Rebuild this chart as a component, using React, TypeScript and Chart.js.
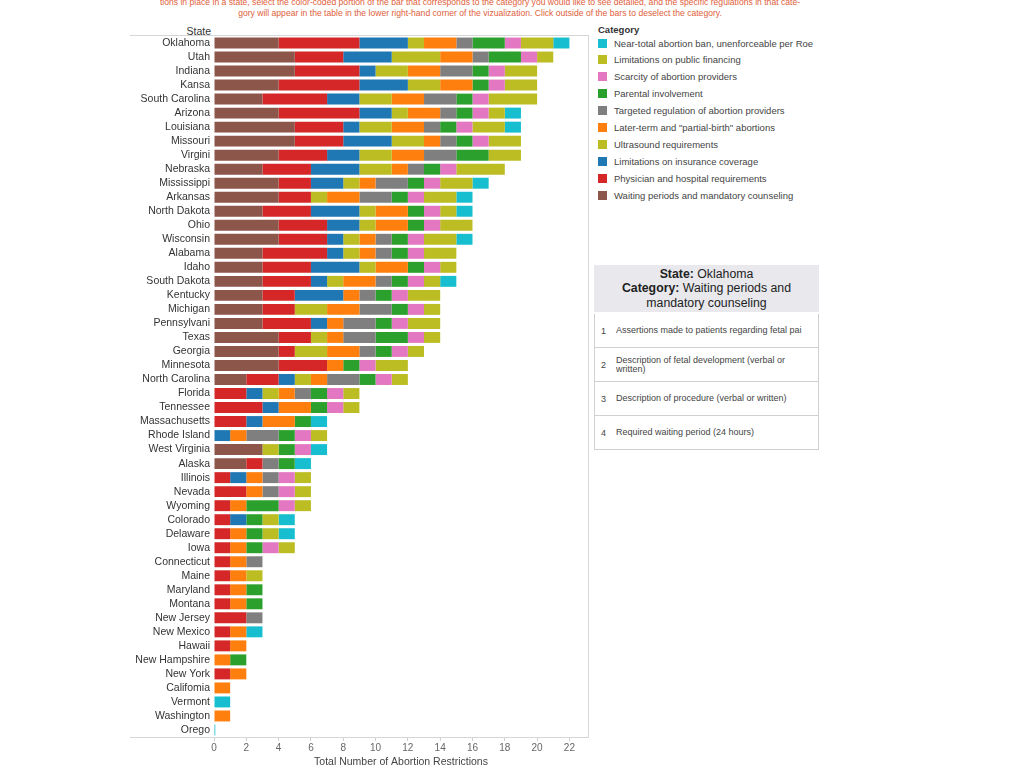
import React, { useEffect, useRef } from "react";
import { Chart, registerables } from "chart.js";

Chart.register(...registerables);

const states = [
  "Oklahoma", "Utah", "Indiana", "Kansa", "South Carolina", "Arizona", "Louisiana", "Missouri", "Virgini", "Nebraska",
  "Mississippi", "Arkansas", "North Dakota", "Ohio", "Wisconsin", "Alabama", "Idaho", "South Dakota", "Kentucky", "Michigan",
  "Pennsylvani", "Texas", "Georgia", "Minnesota", "North Carolina", "Florida", "Tennessee", "Massachusetts", "Rhode Island", "West Virginia",
  "Alaska", "Illinois", "Nevada", "Wyoming", "Colorado", "Delaware", "Iowa", "Connecticut", "Maine", "Maryland",
  "Montana", "New Jersey", "New Mexico", "Hawaii", "New Hampshire", "New York", "Califomia", "Vermont", "Washington", "Orego",
];

const waitingPeriods = [4,5,5,4,3,4,5,5,4,3, 4,4,3,4,4,3,3,3,3,3, 3,4,4,4,2,0,0,0,0,3, 2,0,0,0,0,0,0,0,0,0, 0,0,0,0,0,0,0,0,0,0];
const physicianReqs = [5,3,4,5,4,5,3,3,3,3, 2,2,3,3,3,4,3,3,2,2, 3,2,1,3,2,2,3,2,0,0, 1,1,2,1,1,1,1,1,1,1, 1,2,1,1,0,1,0,0,0,0];
const insuranceLimits = [3,3,1,3,2,2,1,3,2,3, 2,0,3,2,1,1,3,1,3,0, 1,0,0,0,1,1,1,1,1,0, 0,1,0,0,1,0,0,0,0,0, 0,0,0,0,0,0,0,0,0,0];
const ultrasoundReqs = [1,3,2,2,2,1,2,2,2,2, 1,1,1,1,1,1,1,1,0,2, 0,1,2,0,1,1,0,0,0,1, 0,0,0,0,0,0,0,0,0,0, 0,0,0,0,0,0,0,0,0,0];
const laterTerm = [2,2,2,2,2,2,2,1,2,1, 1,2,2,2,1,1,2,2,1,2, 1,1,2,1,1,1,2,2,1,0, 0,1,1,1,0,1,1,1,1,1, 1,0,1,1,1,1,1,0,1,0];
const targetedRegulation = [1,1,2,0,2,1,1,1,2,1, 2,2,0,0,1,1,0,1,1,2, 2,2,1,0,2,1,0,0,2,0, 1,1,1,0,0,0,0,1,0,0, 0,1,0,0,0,0,0,0,0,0];
const parentalInvolvement = [2,2,1,1,1,1,1,1,2,1, 1,1,1,1,1,1,1,1,1,1, 1,2,1,1,1,1,1,1,1,1, 1,0,0,2,1,1,1,0,0,1, 1,0,0,0,1,0,0,0,0,0];
const providerScarcity = [1,1,1,1,1,1,1,1,0,1, 1,1,1,1,1,1,1,1,1,1, 1,1,1,1,1,1,1,0,1,1, 0,1,1,1,0,0,1,0,0,0, 0,0,0,0,0,0,0,0,0,0];
const publicFinancing = [2,1,2,2,3,1,2,2,2,3, 2,2,1,2,2,2,1,1,2,1, 2,1,1,2,1,1,1,0,1,0, 0,1,1,1,1,1,1,0,1,0, 0,0,0,0,0,0,0,0,0,0];
const nearTotalBan = [1,0,0,0,0,1,1,0,0,0, 1,1,1,0,1,0,0,1,0,0, 0,0,0,0,0,0,0,1,0,1, 1,0,0,0,1,1,0,0,0,0, 0,0,1,0,0,0,0,1,0,0.08];

const categoryNames = [
  "Waiting periods and mandatory counseling",
  "Physician and hospital requirements",
  "Limitations on insurance coverage",
  "Ultrasound requirements",
  "Later-term and \"partial-birth\" abortions",
  "Targeted regulation of abortion providers",
  "Parental involvement",
  "Scarcity of abortion providers",
  "Limitations on public financing",
  "Near-total abortion ban, unenforceable per Roe",
];
const categoryColors = ["#8c564b", "#d62728", "#1f77b4", "#bcbd22", "#ff7f0e", "#7f7f7f", "#2ca02c", "#e377c2", "#bcbd22", "#17becf"];
const categoryValues = [waitingPeriods, physicianReqs, insuranceLimits, ultrasoundReqs, laterTerm, targetedRegulation, parentalInvolvement, providerScarcity, publicFinancing, nearTotalBan];

const xTicks = [0, 2, 4, 6, 8, 10, 12, 14, 16, 18, 20, 22];

const detailRows = [
  "Assertions made to patients regarding fetal pai",
  "Description of fetal development (verbal or written)",
  "Description of procedure (verbal or written)",
  "Required waiting period (24 hours)",
];

const FONT = '"Liberation Sans", Arial, sans-serif';

export default function App() {
  const canvasRef = useRef<HTMLCanvasElement | null>(null);

  useEffect(() => {
    if (!canvasRef.current) return;
    const chart = new Chart(canvasRef.current, {
      type: "bar",
      data: {
        labels: states,
        datasets: categoryValues.map((vals, i) => ({
          label: categoryNames[i],
          data: vals,
          backgroundColor: categoryColors[i],
          borderWidth: 0,
          barPercentage: 0.78,
          categoryPercentage: 1,
        })),
      },
      options: {
        indexAxis: "y",
        animation: false,
        responsive: false,
        layout: { padding: { top: 0, right: 2, bottom: 0, left: 0 } },
        plugins: { legend: { display: false }, tooltip: { enabled: false } },
        scales: {
          x: {
            stacked: true,
            min: 0,
            max: 23.15,
            afterBuildTicks: (scale: any) => {
              scale.ticks = xTicks.map((v) => ({ value: v }));
            },
            afterFit: (scale: any) => {
              scale.height = 31;
              scale.paddingRight = 0;
            },
            ticks: { font: { family: FONT, size: 10 }, color: "#666", padding: 1 },
            grid: { drawOnChartArea: false, drawTicks: true, tickLength: 4, color: "#cfcfcf" },
            border: { display: false },
            title: {
              display: true,
              text: "Total Number of Abortion Restrictions",
              font: { family: FONT, size: 10.5 },
              color: "#444",
              padding: { top: 1, bottom: 0 },
            },
          },
          y: {
            stacked: true,
            afterFit: (scale: any) => {
              scale.width = 84;
              scale.paddingTop = 0;
              scale.paddingBottom = 0;
            },
            ticks: { font: { family: FONT, size: 10.5 }, color: "#333", padding: 4, autoSkip: false },
            grid: { display: false, drawTicks: false },
            border: { display: false },
          },
        },
      },
    });
    return () => chart.destroy();
  }, []);

  const legendItems = categoryNames.map((n, i) => ({ n, c: categoryColors[i] })).reverse();

  return (
    <div style={{ position: "absolute", left: 0, top: 0, width: 1024, height: 768, background: "#fff", overflow: "hidden", fontFamily: FONT }}>
      <div style={{ position: "absolute", left: 80, top: -3, width: 800, textAlign: "center", fontSize: 8.6, lineHeight: "11px", color: "#e0603a", whiteSpace: "nowrap" }}>
        tions in place in a state, select the color-coded portion of the bar that corresponds to the category you would like to see detailed, and the specific regulations in that cate-
        <br />
        gory will appear in the table in the lower right-hand corner of the vizualization. Click outside of the bars to deselect the category.
      </div>

      <div style={{ position: "absolute", left: 130, top: 24, width: 81, textAlign: "right", fontSize: 10.5, lineHeight: "14px", color: "#333" }}>State</div>

      <canvas ref={canvasRef} width={460} height={732} style={{ position: "absolute", left: 130, top: 36, width: 460, height: 732 }} />

      <div style={{ position: "absolute", left: 130, top: 35, width: 459, height: 703, boxSizing: "border-box", borderTop: "1px solid #d6d6d6", borderRight: "1px solid #d6d6d6", borderBottom: "1px solid #d6d6d6", pointerEvents: "none" }} />

      <div style={{ position: "absolute", left: 598, top: 23, fontSize: 9.5, lineHeight: "14px", fontWeight: "bold", color: "#333" }}>Category</div>
      {legendItems.map((it, i) => (
        <div key={i} style={{ position: "absolute", left: 598, top: 43 + i * 16.9 - 7, height: 14, display: "flex", alignItems: "center" }}>
          <div style={{ width: 9, height: 9, background: it.c, marginRight: 7 }} />
          <div style={{ fontSize: 9.5, color: "#444", whiteSpace: "nowrap" }}>{it.n}</div>
        </div>
      ))}

      <div style={{ position: "absolute", left: 594, top: 265, width: 225, height: 47, background: "#e8e8ed", textAlign: "center", fontSize: 12.3, lineHeight: "14.3px", color: "#222", paddingTop: 2, boxSizing: "border-box" }}>
        <b>State:</b> Oklahoma
        <br />
        <b>Category:</b> Waiting periods and
        <br />
        mandatory counseling
      </div>

      <div style={{ position: "absolute", left: 594, top: 314, width: 225, boxSizing: "border-box", borderLeft: "1px solid #d0d0d0", borderRight: "1px solid #d0d0d0" }}>
        {detailRows.map((t, i) => (
          <div key={i} style={{ height: 34, boxSizing: "border-box", borderBottom: "1px solid #d0d0d0", display: "flex", alignItems: "center", fontSize: 9, color: "#444" }}>
            <div style={{ width: 21, paddingLeft: 6, boxSizing: "border-box" }}>{i + 1}</div>
            <div style={{ width: 198, lineHeight: "9px", overflow: "hidden", whiteSpace: i === 0 ? "nowrap" : "normal" }}>{t}</div>
          </div>
        ))}
      </div>
    </div>
  );
}
